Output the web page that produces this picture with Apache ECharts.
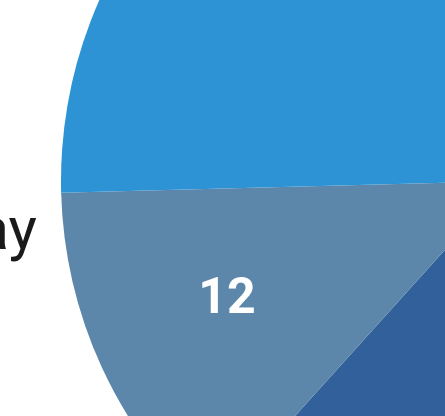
<!DOCTYPE html>
<html>
<head>
<meta charset="utf-8">
<script src="https://cdn.jsdelivr.net/npm/echarts@6/dist/echarts.min.js"></script>
<style>
    html, body { margin: 0; padding: 0; background: #fff; }
    #chart { width: 445px; height: 416px; }
</style>
</head>
<body>
<div id="chart"></div>
<script>
    // slice data (only part of the pie is visible in the crop)
    const days = ['Monday', 'Tuesday', 'Wednesday', 'Thursday', 'Friday'];
    const counts = [19, 21, 17, 12, 24];
    const sliceColors = ['#7fb2d8', '#a9c6de', '#31609a', '#5c87aa', '#2d93d5'];
    const shownLabel = 'Thursday';

    const pieData = days.map((d, i) => ({ name: d, value: counts[i] }));

    const myChart = echarts.init(document.getElementById('chart'));
    myChart.setOption({
        animation: false,
        title: {
            text: shownLabel,
            right: 408,
            top: 204,
            padding: 0,
            textStyle: {
                fontFamily: 'Roboto',
                fontSize: 60,
                fontWeight: 'normal',
                color: '#1a1a1a',
            },
        },
        series: [
            {
                name: 'days',
                type: 'pie',
                center: [507, 181],
                radius: 446,
                startAngle: 88.6,
                color: sliceColors,
                itemStyle: {
                    borderWidth: 0,
                },
                label: { show: false },
                labelLine: { show: false },
                silent: true,
                data: pieData,
            },
            {
                // label-only ring, so the numbers sit further out
                name: 'labels',
                type: 'pie',
                center: [507, 181],
                radius: [158, 446],
                startAngle: 88.6,
                itemStyle: {
                    color: 'rgba(0,0,0,0)',
                },
                label: {
                    show: true,
                    position: 'inside',
                    formatter: '{c}',
                    offset: [-3, -8],
                    fontFamily: 'Roboto',
                    fontSize: 50,
                    fontWeight: 'bold',
                    color: '#fff',
                },
                labelLine: { show: false },
                silent: true,
                data: pieData,
            },
        ],
    });
</script>
</body>
</html>
